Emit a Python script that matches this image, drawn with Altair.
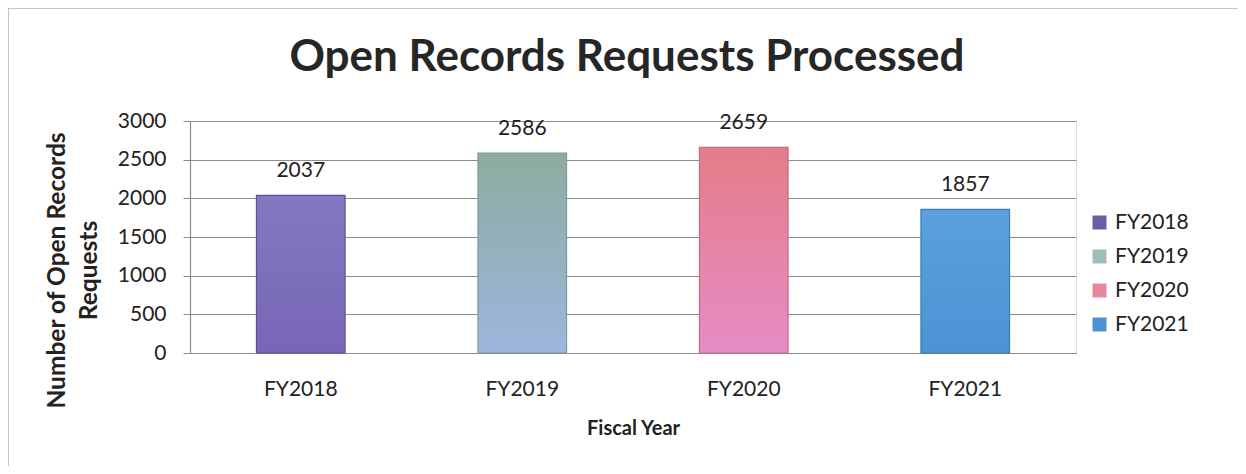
import altair as alt
import pandas as pd

years = ["FY2018", "FY2019", "FY2020", "FY2021"]
counts = [2037, 2586, 2659, 1857]
legend_colors = ["#6f5ca6", "#a3bcbc", "#e58a9c", "#4f90d2"]
grad_top = ["#8478c2", "#8eab9f", "#e47d88", "#5aa0dc"]
grad_bottom = ["#7766b6", "#9db6de", "#e68cc6", "#4b93d4"]
edge_colors = ["#5f4f96", "#7f9aa0", "#c46d80", "#3f7bb6"]
y_ticks = [0, 500, 1000, 1500, 2000, 2500, 3000]

df = pd.DataFrame({"year": years, "count": counts})

FONT = "Lato"

x_enc = alt.X(
    "year:N",
    sort=years,
    scale=alt.Scale(paddingInner=0.6, paddingOuter=0.3),
    axis=alt.Axis(
        title="Fiscal Year",
        labelAngle=0,
        ticks=False,
        tickSize=0,
        domain=True,
        domainColor="#8c8c8c",
        domainWidth=1.2,
        labelFont=FONT,
        labelFontSize=21,
        labelColor="#222222",
        labelPadding=25,
        labelBaseline="top",
        titleFont=FONT,
        titleFontSize=20,
        titleFontWeight="bold",
        titleColor="#222222",
        titlePadding=19,
    ),
)
y_enc = alt.Y(
    "count:Q",
    scale=alt.Scale(domain=[0, 3000], nice=False),
    axis=alt.Axis(
        title=["Number  of Open Records", "Requests"],
        values=y_ticks,
        format="d",
        labelOverlap=False,
        grid=True,
        gridColor="#8c8c8c",
        gridWidth=1.2,
        domainColor="#8c8c8c",
        domainWidth=1.2,
        tickColor="#8c8c8c",
        tickSize=7,
        labelFont=FONT,
        labelFontSize=21,
        labelColor="#222222",
        labelPadding=17,
        titleFont=FONT,
        titleFontSize=24.5,
        titleFontWeight="bold",
        titleColor="#222222",
        titleLineHeight=32,
        titleBaseline="bottom",
        titleX=-121,
        titleY=149,
        titleAngle=270,
    ),
)

base = alt.Chart(df)

bars = base.mark_bar().encode(
    x=x_enc,
    y=y_enc,
    color=alt.Color(
        "year:N",
        sort=years,
        scale=alt.Scale(domain=years, range=legend_colors),
        legend=alt.Legend(
            title=None,
            orient="none",
            legendX=899,
            legendY=91,
            symbolType="square",
            symbolSize=196,
            symbolStrokeWidth=0,
            labelFont=FONT,
            labelFontSize=21,
            labelColor="#222222",
            labelOffset=5,
            rowPadding=12,
            padding=0,
        ),
    ),
)

layers = [bars]
for i, yr in enumerate(years):
    grad = {
        "gradient": "linear",
        "x1": 0, "x2": 0, "y1": 0, "y2": 1,
        "stops": [
            {"offset": 0, "color": grad_top[i]},
            {"offset": 1, "color": grad_bottom[i]},
        ],
    }
    layers.append(
        base.transform_filter(alt.datum.year == yr)
        .mark_bar(color=grad, stroke=edge_colors[i], strokeWidth=1.2)
        .encode(x=x_enc, y=y_enc)
    )

labels = base.mark_text(
    dy=-24, fontSize=21, font=FONT, color="#222222", baseline="middle"
).encode(x=x_enc, y=y_enc, text=alt.Text("count:Q"))

frame = alt.Chart(pd.DataFrame({"a": [0]})).mark_rect(
    fill="transparent", stroke="#b4b4b4", strokeWidth=1.5
).encode(
    x=alt.value(-182), x2=alt.value(1060), y=alt.value(-113), y2=alt.value(360)
)

chart = alt.layer(frame, *layers, labels).properties(
    width=886,
    height=232,
    autosize=alt.AutoSizeParams(type="none"),
    padding={"left": 182, "top": 113, "right": 162, "bottom": 113},
    title=alt.TitleParams(
        "Open Records Requests Processed",
        font=FONT,
        fontSize=44,
        fontWeight="bold",
        color="#262626",
        anchor="middle",
        offset=-73,
        dx=-6,
    ),
).configure_view(stroke=None).configure(background="white")

chart.save("out.html", embed_options={"renderer": "svg", "actions": False})
